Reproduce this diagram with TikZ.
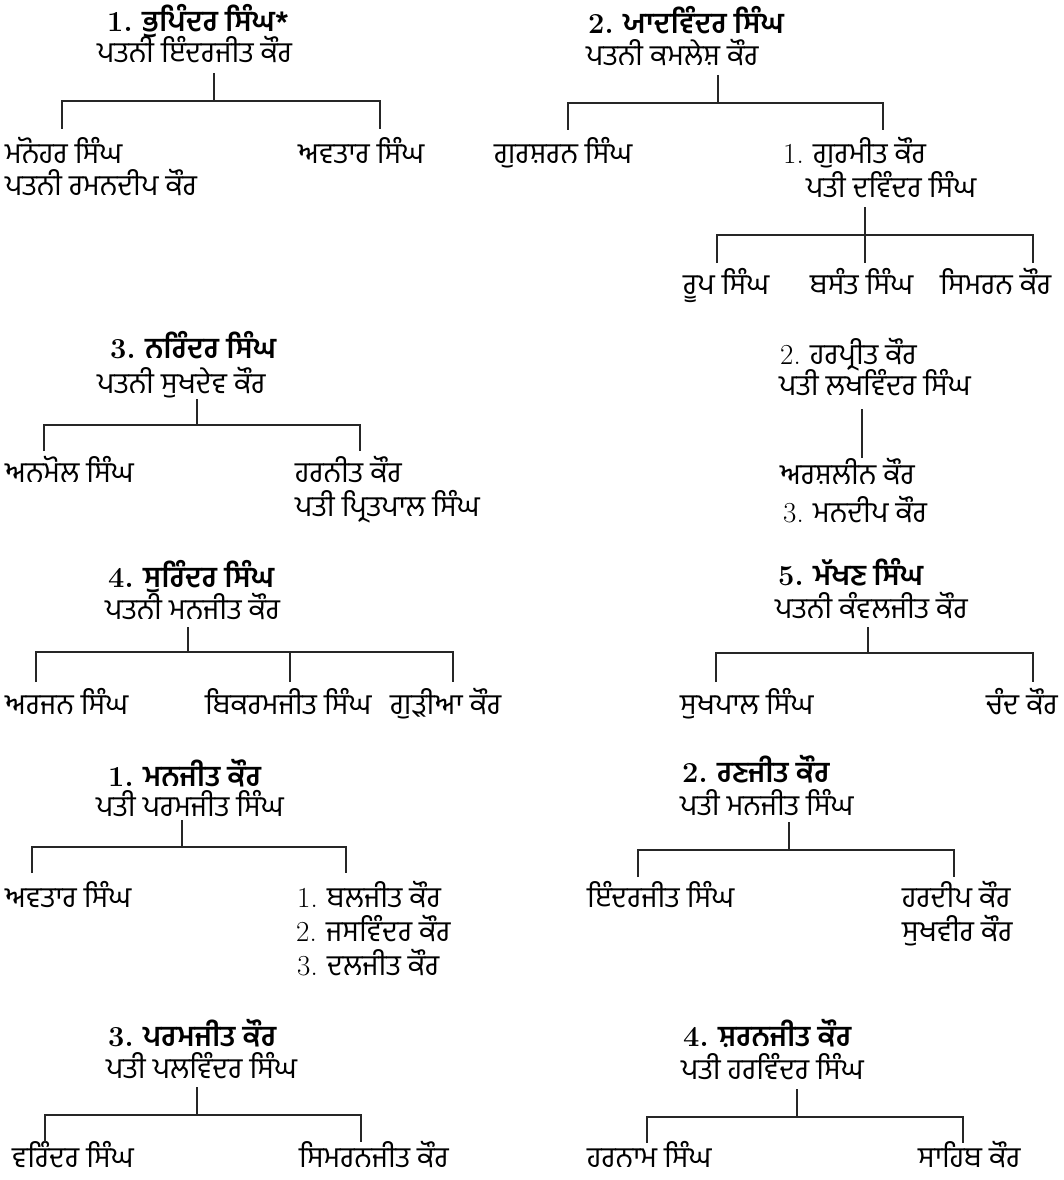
\documentclass[tikz,border=0pt]{standalone}
\usepackage{fontspec}
\newfontfamily\gur[Script=Gurmukhi]{Hind Jalandhar}
\newcommand\lnum[1]{{\rmfamily #1}}
\usepackage{tikz}

\begin{document}
\begin{tikzpicture}[x=1pt,y=-1pt,
    txt/.style={anchor=base west, inner sep=0pt, font=\gur\fontsize{29}{32}\selectfont},
    head/.style={txt, font=\gur\bfseries\fontsize{29}{32}\selectfont},
    link/.style={line width=2pt, draw=black!85}]
    \useasboundingbox (0,0) rectangle (1063,1180);

    % Family: 1
    \node[head] (h1) at (107,32) {\lnum{1.} ਭੁਪਿੰਦਰ ਸਿੰਘ*};
    \node[txt] (w1) at (97,63) {ਪਤਨੀ ਇੰਦਰਜੀਤ ਕੌਰ};
    \node[txt] (c1a) at (5,164) {ਮਨੋਹਰ ਸਿੰਘ};
    \node[txt] (c1b) at (5,195) {ਪਤਨੀ ਰਮਨਦੀਪ ਕੌਰ};
    \node[txt] (c1c) at (298,164) {ਅਵਤਾਰ ਸਿੰਘ};
    \coordinate (s1) at (214,73);
    \coordinate (j1) at (214,101);
    \coordinate (l1a) at (62,129);
    \coordinate (l1b) at (380,129);
    \draw[link] (s1) -- (j1);
    \draw[link] (l1a) |- (j1) -| (l1b);

    % Family: 2
    \node[head] (h2) at (588,34) {\lnum{2.} ਯਾਦਵਿੰਦਰ ਸਿੰਘ};
    \node[txt] (w2) at (586,66) {ਪਤਨੀ ਕਮਲੇਸ਼ ਕੌਰ};
    \node[txt] (c2a) at (494,164) {ਗੁਰਸ਼ਰਨ ਸਿੰਘ};
    \node[txt] (c2b) at (783,164) {\lnum{1.} ਗੁਰਮੀਤ ਕੌਰ};
    \node[txt] (c2c) at (806,197) {ਪਤੀ ਦਵਿੰਦਰ ਸਿੰਘ};
    \coordinate (s2) at (718,75);
    \coordinate (j2) at (718,103);
    \coordinate (l2a) at (568,130);
    \coordinate (l2b) at (883,130);
    \draw[link] (s2) -- (j2);
    \draw[link] (l2a) |- (j2) -| (l2b);

    % Family: 2 / 1
    \node[txt] (g1) at (683,294) {ਰੂਪ ਸਿੰਘ};
    \node[txt] (g2) at (810,294) {ਬਸੰਤ ਸਿੰਘ};
    \node[txt] (g3) at (940,294) {ਸਿਮਰਨ ਕੌਰ};
    \coordinate (s2g) at (865,207);
    \coordinate (j2g) at (865,235);
    \coordinate (l2ga) at (717,263);
    \coordinate (l2gb) at (865,263);
    \coordinate (l2gc) at (1033,263);
    \draw[link] (s2g) -- (l2gb);
    \draw[link] (l2ga) |- (j2g) -| (l2gc);

    % Family: 2 / 2
    \node[txt] (c2d) at (780,364) {\lnum{2.} ਹਰਪ੍ਰੀਤ ਕੌਰ};
    \node[txt] (c2e) at (779,395) {ਪਤੀ ਲਖਵਿੰਦਰ ਸਿੰਘ};
    \node[txt] (c2f) at (780,484) {ਅਰਸ਼ਲੀਨ ਕੌਰ};
    \node[txt] (c2g) at (783,522) {\lnum{3.} ਮਨਦੀਪ ਕੌਰ};
    \coordinate (s2h) at (862,409);
    \coordinate (l2h) at (862,458);
    \draw[link] (s2h) -- (l2h);

    % Family: 3
    \node[head] (h3) at (110,358) {\lnum{3.} ਨਰਿੰਦਰ ਸਿੰਘ};
    \node[txt] (w3) at (97,393) {ਪਤਨੀ ਸੁਖਦੇਵ ਕੌਰ};
    \node[txt] (c3a) at (5,482) {ਅਨਮੋਲ ਸਿੰਘ};
    \node[txt] (c3b) at (295,482) {ਹਰਨੀਤ ਕੌਰ};
    \node[txt] (c3c) at (295,516) {ਪਤੀ ਪ੍ਰਿਤਪਾਲ ਸਿੰਘ};
    \coordinate (s3) at (197,399);
    \coordinate (j3) at (197,425);
    \coordinate (l3a) at (44,451);
    \coordinate (l3b) at (360,451);
    \draw[link] (s3) -- (j3);
    \draw[link] (l3a) |- (j3) -| (l3b);

    % Family: 4
    \node[head] (h4) at (108,587) {\lnum{4.} ਸੁਰਿੰਦਰ ਸਿੰਘ};
    \node[txt] (w4) at (105,619) {ਪਤਨੀ ਮਨਜੀਤ ਕੌਰ};
    \node[txt] (c4a) at (5,714) {ਅਰਜਨ ਸਿੰਘ};
    \node[txt] (c4b) at (205,714) {ਬਿਕਰਮਜੀਤ ਸਿੰਘ};
    \node[txt] (c4c) at (390,714) {ਗੁੜੀਆ ਕੌਰ};
    \coordinate (s4) at (188,627);
    \coordinate (j4) at (188,652);
    \coordinate (l4a) at (36,682);
    \coordinate (l4b) at (290,682);
    \coordinate (l4c) at (453,682);
    \draw[link] (s4) -- (j4);
    \draw[link] (l4a) |- (j4) -| (l4c);
    \draw[link] (l4b) -- (l4b |- j4);

    % Family: 5
    \node[head] (h5) at (778,585) {\lnum{5.} ਮੱਖਣ ਸਿੰਘ};
    \node[txt] (w5) at (775,618) {ਪਤਨੀ ਕੰਵਲਜੀਤ ਕੌਰ};
    \node[txt] (c5a) at (680,714) {ਸੁਖਪਾਲ ਸਿੰਘ};
    \node[txt] (c5b) at (986,714) {ਚੰਦ ਕੌਰ};
    \coordinate (s5) at (868,627);
    \coordinate (j5) at (868,653);
    \coordinate (l5a) at (716,682);
    \coordinate (l5b) at (1033,682);
    \draw[link] (s5) -- (j5);
    \draw[link] (l5a) |- (j5) -| (l5b);

    % Family: 6
    \node[head] (h6) at (108,786) {\lnum{1.} ਮਨਜੀਤ ਕੌਰ};
    \node[txt] (w6) at (96,816) {ਪਤੀ ਪਰਮਜੀਤ ਸਿੰਘ};
    \node[txt] (c6a) at (5,907) {ਅਵਤਾਰ ਸਿੰਘ};
    \node[txt] (c6b) at (297,907) {\lnum{1.} ਬਲਜੀਤ ਕੌਰ};
    \node[txt] (c6c) at (296,941) {\lnum{2.} ਜਸਵਿੰਦਰ ਕੌਰ};
    \node[txt] (c6d) at (297,975) {\lnum{3.} ਦਲਜੀਤ ਕੌਰ};
    \coordinate (s6) at (182,820);
    \coordinate (j6) at (182,847);
    \coordinate (l6a) at (32,873);
    \coordinate (l6b) at (346,873);
    \draw[link] (s6) -- (j6);
    \draw[link] (l6a) |- (j6) -| (l6b);

    % Family: 7
    \node[head] (h7) at (682,782) {\lnum{2.} ਰਣਜੀਤ ਕੌਰ};
    \node[txt] (w7) at (680,815) {ਪਤੀ ਮਨਜੀਤ ਸਿੰਘ};
    \node[txt] (c7a) at (587,907) {ਇੰਦਰਜੀਤ ਸਿੰਘ};
    \node[txt] (c7b) at (902,907) {ਹਰਦੀਪ ਕੌਰ};
    \node[txt] (c7c) at (902,941) {ਸੁਖਵੀਰ ਕੌਰ};
    \coordinate (s7) at (789,822);
    \coordinate (j7) at (789,850);
    \coordinate (l7a) at (638,877);
    \coordinate (l7b) at (954,877);
    \draw[link] (s7) -- (j7);
    \draw[link] (l7a) |- (j7) -| (l7b);

    % Family: 8
    \node[head] (h8) at (108,1046) {\lnum{3.} ਪਰਮਜੀਤ ਕੌਰ};
    \node[txt] (w8) at (106,1078) {ਪਤੀ ਪਲਵਿੰਦਰ ਸਿੰਘ};
    \node[txt] (c8a) at (12,1167) {ਵਰਿੰਦਰ ਸਿੰਘ};
    \node[txt] (c8b) at (299,1167) {ਸਿਮਰਨਜੀਤ ਕੌਰ};
    \coordinate (s8) at (197,1087);
    \coordinate (j8) at (197,1115);
    \coordinate (l8a) at (45,1142);
    \coordinate (l8b) at (361,1142);
    \draw[link] (s8) -- (j8);
    \draw[link] (l8a) |- (j8) -| (l8b);

    % Family: 9
    \node[head] (h9) at (683,1046) {\lnum{4.} ਸ਼ਰਨਜੀਤ ਕੌਰ};
    \node[txt] (w9) at (681,1079) {ਪਤੀ ਹਰਵਿੰਦਰ ਸਿੰਘ};
    \node[txt] (c9a) at (587,1167) {ਹਰਨਾਮ ਸਿੰਘ};
    \node[txt] (c9b) at (918,1167) {ਸਾਹਿਬ ਕੌਰ};
    \coordinate (s9) at (797,1089);
    \coordinate (j9) at (797,1117);
    \coordinate (l9a) at (647,1143);
    \coordinate (l9b) at (963,1143);
    \draw[link] (s9) -- (j9);
    \draw[link] (l9a) |- (j9) -| (l9b);

\end{tikzpicture}
\end{document}
